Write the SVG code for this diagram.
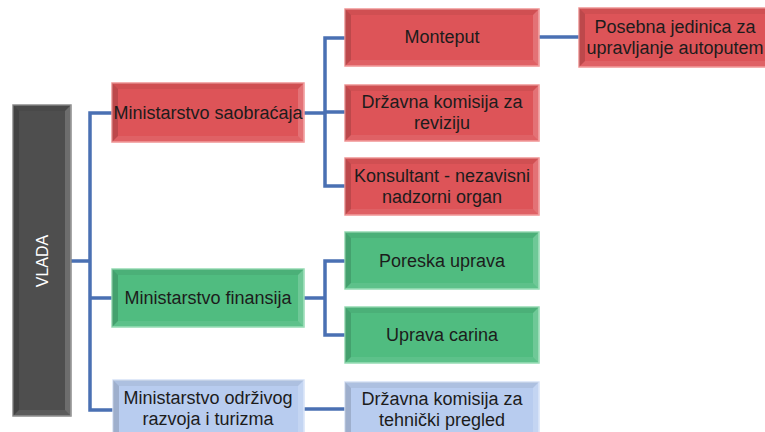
<svg xmlns="http://www.w3.org/2000/svg" width="765" height="432" viewBox="0 0 765 432">
<style>
.red{fill:#dd5458;stroke:#f19494;stroke-width:1.5}
.grn{fill:#50bc80;stroke:#94dcb3;stroke-width:1.5}
.blu{fill:#b8ccef;stroke:#d6e2f8;stroke-width:1.5}
.drk{fill:#4e4e4e;stroke:#8c8c8c;stroke-width:1.5}
.bt{fill:#000;opacity:.06}
.bl{fill:#000;opacity:.14}
.br{fill:#fff;opacity:.18}
.bb{fill:#fff;opacity:.08}
text{font-family:"Liberation Sans",Arial,sans-serif;font-size:18px;fill:#1c1c1c;text-anchor:middle;dominant-baseline:central}
.wt{fill:#fff;font-size:16px}
.con{fill:none;stroke:#4a70b3;stroke-width:3.5;stroke-linejoin:miter}
</style>
<rect width="765" height="432" fill="#fff"/>
<g id="connectors">
<path class="con" d="M71,261H90M112,113H90V410H113M90,298H112"/>
<path class="con" d="M304,113H325M345,38H325V186H345M325,112H345"/>
<path class="con" d="M304,298H325M345,261H325V335H345"/>
<path class="con" d="M304,409H345"/>
<path class="con" d="M539,37H579"/>
</g>
<g id="vlada">
<rect class="drk" x="13" y="105" width="58" height="311"/>
<polygon class="bt" points="13,105 71,105 65,111 19,111"/><polygon class="bl" points="13,105 19,111 19,410 13,416"/><polygon class="br" points="71,105 71,416 65,410 65,111"/><polygon class="bb" points="13,416 71,416 65,410 19,410"/>
<text class="wt" transform="translate(42,261) rotate(-90)">VLADA</text>
</g>
<g id="saobracaja">
<rect class="red" x="112" y="83" width="192" height="59"/>
<polygon class="bt" points="112,83 304,83 298,89 118,89"/><polygon class="bl" points="112,83 118,89 118,136 112,142"/><polygon class="br" points="304,83 304,142 298,136 298,89"/><polygon class="bb" points="112,142 304,142 298,136 118,136"/>
<text x="208" y="113">Ministarstvo saobraćaja</text>
</g>
<g id="finansija">
<rect class="grn" x="112" y="269" width="192" height="58"/>
<polygon class="bt" points="112,269 304,269 298,275 118,275"/><polygon class="bl" points="112,269 118,275 118,321 112,327"/><polygon class="br" points="304,269 304,327 298,321 298,275"/><polygon class="bb" points="112,327 304,327 298,321 118,321"/>
<text x="208" y="298">Ministarstvo finansija</text>
</g>
<g id="odrzivog">
<rect class="blu" x="113" y="380" width="191" height="60"/>
<polygon class="bt" points="113,380 304,380 298,386 119,386"/><polygon class="bl" points="113,380 119,386 119,434 113,440"/><polygon class="br" points="304,380 304,440 298,434 298,386"/>
<text x="208" y="398">Ministarstvo održivog</text>
<text x="208" y="419">razvoja i turizma</text>
</g>
<g id="monteput">
<rect class="red" x="345" y="9" width="194" height="57"/>
<polygon class="bt" points="345,9 539,9 533,15 351,15"/><polygon class="bl" points="345,9 351,15 351,60 345,66"/><polygon class="br" points="539,9 539,66 533,60 533,15"/><polygon class="bb" points="345,66 539,66 533,60 351,60"/>
<text x="442" y="37">Monteput</text>
</g>
<g id="revizija">
<rect class="red" x="345" y="85" width="194" height="56"/>
<polygon class="bt" points="345,85 539,85 533,91 351,91"/><polygon class="bl" points="345,85 351,91 351,135 345,141"/><polygon class="br" points="539,85 539,141 533,135 533,91"/><polygon class="bb" points="345,141 539,141 533,135 351,135"/>
<text x="442" y="102">Državna komisija za</text>
<text x="442" y="123">reviziju</text>
</g>
<g id="konsultant">
<rect class="red" x="345" y="158" width="194" height="57"/>
<polygon class="bt" points="345,158 539,158 533,164 351,164"/><polygon class="bl" points="345,158 351,164 351,209 345,215"/><polygon class="br" points="539,158 539,215 533,209 533,164"/><polygon class="bb" points="345,215 539,215 533,209 351,209"/>
<text x="442" y="176">Konsultant - nezavisni</text>
<text x="442" y="197">nadzorni organ</text>
</g>
<g id="poreska">
<rect class="grn" x="345" y="232" width="194" height="57"/>
<polygon class="bt" points="345,232 539,232 533,238 351,238"/><polygon class="bl" points="345,232 351,238 351,283 345,289"/><polygon class="br" points="539,232 539,289 533,283 533,238"/><polygon class="bb" points="345,289 539,289 533,283 351,283"/>
<text x="442" y="261">Poreska uprava</text>
</g>
<g id="carina">
<rect class="grn" x="345" y="307" width="194" height="56"/>
<polygon class="bt" points="345,307 539,307 533,313 351,313"/><polygon class="bl" points="345,307 351,313 351,357 345,363"/><polygon class="br" points="539,307 539,363 533,357 533,313"/><polygon class="bb" points="345,363 539,363 533,357 351,357"/>
<text x="442" y="335">Uprava carina</text>
</g>
<g id="tehnicki">
<rect class="blu" x="345" y="382" width="194" height="60"/>
<polygon class="bt" points="345,382 539,382 533,388 351,388"/><polygon class="bl" points="345,382 351,388 351,436 345,442"/><polygon class="br" points="539,382 539,442 533,436 533,388"/>
<text x="442" y="399">Državna komisija za</text>
<text x="442" y="420">tehnički pregled</text>
</g>
<g id="posebna">
<rect class="red" x="579" y="8" width="200" height="59"/>
<polygon class="bt" points="579,8 779,8 773,14 585,14"/><polygon class="bl" points="579,8 585,14 585,61 579,67"/><polygon class="bb" points="579,67 779,67 773,61 585,61"/>
<text x="675" y="27">Posebna jedinica za</text>
<text x="675" y="48">upravljanje autoputem</text>
</g>
</svg>
